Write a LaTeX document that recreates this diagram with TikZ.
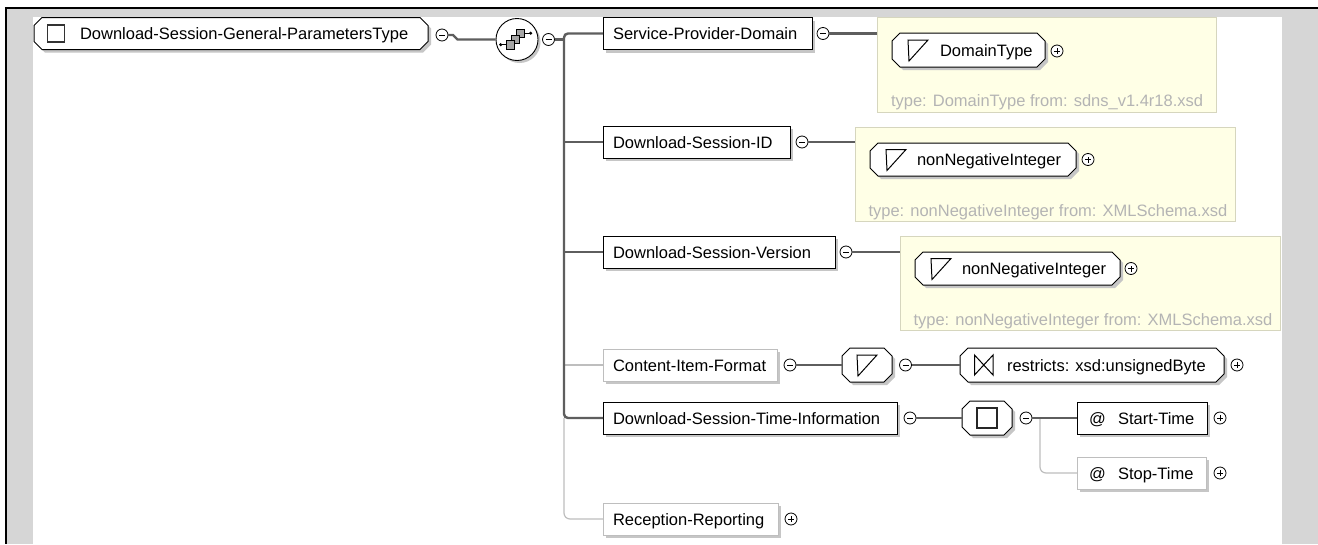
\documentclass[tikz,border=0pt]{standalone}
\usepackage{fontspec}
\setmainfont{Liberation Sans}
\usetikzlibrary{shadows}
\definecolor{bandgray}{HTML}{D6D6D6}
\definecolor{annfill}{HTML}{FFFFE6}
\definecolor{anndraw}{HTML}{D6D6BE}
\definecolor{typegray}{HTML}{B4B4B4}
\definecolor{optgray}{HTML}{BEBEBE}
\definecolor{shadowc}{HTML}{C6C6C6}
\definecolor{linedark}{HTML}{5E5E5E}
\newcommand\hexpath[2]{([xshift=8pt+#1,yshift=-#1]#2.north west) -- ([xshift=-8pt+#1,yshift=-#1]#2.north east) -- ([xshift=#1,yshift=-8pt-#1]#2.north east) -- ([xshift=#1,yshift=8pt-#1]#2.south east) -- ([xshift=-8pt+#1,yshift=-#1]#2.south east) -- ([xshift=8pt+#1,yshift=-#1]#2.south west) -- ([xshift=#1,yshift=8pt-#1]#2.south west) -- ([xshift=#1,yshift=-8pt-#1]#2.north west) -- cycle}
\newcommand\hexdraw[1]{\fill[shadowc] \hexpath{3pt}{#1}; \filldraw[fill=white, draw=black, line width=1pt] \hexpath{0pt}{#1};}
\newcommand\triicon[2]{\draw[black, line width=1pt, line join=miter] (#1,#2-10) -- (#1+20,#2-10) -- (#1+1,#2+11) -- cycle;}
\begin{document}
\begin{tikzpicture}[x=1pt,y=-1pt,
  elbox/.style={rectangle, draw=black, line width=1pt, fill=white, inner sep=0pt, outer sep=0pt, anchor=north west,
    drop shadow={shadow xshift=3pt, shadow yshift=-3pt, fill=shadowc, opacity=1}},
  optbox/.style={elbox, draw=optgray},
  hexbase/.style={rectangle, inner sep=0pt, outer sep=0pt, anchor=north west},
  ann/.style={rectangle, draw=anndraw, fill=annfill, line width=1pt, inner sep=0pt, outer sep=0pt, anchor=north west},
  lbl/.style={anchor=base west, inner sep=0pt, outer sep=0pt, font=\fontsize{16.5}{19}\selectfont},
  typetxt/.style={lbl, text=typegray},
  pmminus/.style={circle, draw=black, line width=0.8pt, fill=white, minimum size=12pt, inner sep=0pt, outer sep=0pt,
    path picture={\draw[line width=0.9pt] ([xshift=-3pt]path picture bounding box.center) -- ([xshift=3pt]path picture bounding box.center);}},
  pmplus/.style={circle, draw=black, line width=0.8pt, fill=white, minimum size=12pt, inner sep=0pt, outer sep=0pt,
    path picture={\draw[line width=0.9pt] ([xshift=-3pt]path picture bounding box.center) -- ([xshift=3pt]path picture bounding box.center);
      \draw[line width=0.9pt] ([yshift=-3pt]path picture bounding box.center) -- ([yshift=3pt]path picture bounding box.center);}},
  darkline/.style={draw=linedark, line width=2.4pt},
  optline/.style={draw=optgray, line width=1.2pt},
]
\useasboundingbox (0,0) rectangle (1318,544);
% frame
\fill[bandgray] (6,8) rectangle (1318,544);
\fill[white] (33,17) rectangle (1282,544);
\draw[black, line width=2.2pt] (4.9,8) -- (1318,8);
\draw[black, line width=2.2pt] (6,8) -- (6,544);

% root
\node[hexbase, minimum width=394pt, minimum height=32pt] (root) at (34,17.5) {};
\hexdraw{root}
\draw[black!80, line width=1.3pt] (47.5,25) rectangle (64.5,42);
\node[lbl] (rootlbl) at (80,39.5) {Download-Session-General-ParametersType};
\node[pmminus] (m0) at (442,35) {};

% sequence compositor
\node[circle, draw=black, line width=0.9pt, fill=white, minimum size=42pt, inner sep=0pt,
  drop shadow={shadow xshift=2.5pt, shadow yshift=-2.5pt, fill=shadowc, opacity=1}] (seq) at (517,39.5) {};
\draw[black, line width=0.8pt] (500.7,44.7) -- (506.3,44.7);
\fill[black] (500.7,44.7) circle (1.7);
\draw[black, line width=0.8pt] (524.7,33.2) -- (530.7,33.2);
\fill[black] (530.7,33.2) circle (1.7);
\filldraw[fill=black!35, draw=black, line width=0.7pt] (516.3,29) rectangle +(8.4,8.4);
\filldraw[fill=black!35, draw=black, line width=0.7pt] (511.3,35) rectangle +(8.4,8.4);
\filldraw[fill=black!35, draw=black, line width=0.7pt] (506.3,40.7) rectangle +(8.4,8.4);
\node[pmminus] (m1) at (548.5,39.5) {};
\draw[darkline] (m0.east) -- ++(5,0) -- ++(4.5,4.5) -- (seq.west);

% children boxes
\node[elbox, minimum width=209pt, minimum height=32pt] (spd) at (603,17.5) {};
\node[lbl] at (613,39.5) {Service-Provider-Domain};
\node[pmminus] (m2) at (823,33.5) {};

\node[elbox, minimum width=187pt, minimum height=32pt] (dsid) at (603,126) {};
\node[lbl] at (613,148) {Download-Session-ID};
\node[pmminus] (m3) at (802,142) {};

\node[elbox, minimum width=232pt, minimum height=32pt] (dsv) at (603,236) {};
\node[lbl] at (613,258) {Download-Session-Version};
\node[pmminus] (m4) at (846,252) {};

\node[optbox, minimum width=174pt, minimum height=32pt] (cif) at (603,349) {};
\node[lbl] at (613,371) {Content-Item-Format};
\node[pmminus] (m5) at (790,365) {};

\node[elbox, minimum width=294pt, minimum height=32pt] (dsti) at (603,402) {};
\node[lbl] at (613,424) {Download-Session-Time-Information};
\node[pmminus] (m7) at (910,418) {};

\node[optbox, minimum width=175pt, minimum height=32pt] (rr) at (603,503) {};
\node[lbl] at (613,525) {Reception-Reporting};
\node[pmplus] (p7) at (791,519) {};

% main trunk
\coordinate (tj) at (564,418);
\draw[optline, rounded corners=6pt] (tj) |- (rr.west);
\draw[optline] (cif.west) -- (cif.west -| tj);
\draw[darkline, rounded corners=4pt] (spd.west) -| (tj) -- (dsti.west);
\draw[darkline] (dsid.west) -- (dsid.west -| tj);
\draw[darkline] (dsv.west) -- (dsv.west -| tj);
\draw[darkline] (m1.east) -- (m1.east -| tj);

% annotation 1
\node[ann, minimum width=339pt, minimum height=95pt] (ann1) at (877,17) {};
\draw[darkline] (m2.east) -- (m2.east -| ann1.west);
\node[hexbase, minimum width=153pt, minimum height=34pt] (dt) at (892,33) {};
\hexdraw{dt}
\triicon{908}{50}
\node[lbl] at (940,56) {DomainType};
\node[pmplus] (p1) at (1057,51) {};
\node[typetxt] at (891,106) {type: DomainType from: sdns\_v1.4r18.xsd};

% annotation 2
\node[ann, minimum width=380pt, minimum height=94pt] (ann2) at (855,127) {};
\draw[darkline] (m3.east) -- (m3.east -| ann2.west);
\node[hexbase, minimum width=206pt, minimum height=33pt] (nni1) at (870,143) {};
\hexdraw{nni1}
\triicon{886}{159.5}
\node[lbl] at (917,165.5) {nonNegativeInteger};
\node[pmplus] (p2) at (1088,159.5) {};
\node[typetxt] at (868.5,216) {type: nonNegativeInteger from: XMLSchema.xsd};

% annotation 3
\node[ann, minimum width=380pt, minimum height=94pt] (ann3) at (900,236) {};
\draw[darkline] (m4.east) -- (m4.east -| ann3.west);
\node[hexbase, minimum width=205pt, minimum height=33pt] (nni2) at (915,252) {};
\hexdraw{nni2}
\triicon{931}{268.5}
\node[lbl] at (962,274.5) {nonNegativeInteger};
\node[pmplus] (p3) at (1131,268.5) {};
\node[typetxt] at (913.5,325) {type: nonNegativeInteger from: XMLSchema.xsd};

% Content-Item-Format chain
\node[hexbase, minimum width=50pt, minimum height=34pt] (thex) at (842,348) {};
\hexdraw{thex}
\triicon{857}{365}
\node[pmminus] (m6) at (905.5,365) {};
\node[hexbase, minimum width=264pt, minimum height=34pt] (rhex) at (960,348) {};
\hexdraw{rhex}
\draw[black, line width=1pt] (974.5,355) -- (974.5,375) -- (993,355) -- (993,375) -- cycle;
\node[lbl] at (1007,371) {restricts: xsd:unsignedByte};
\node[pmplus] (p4) at (1237,365) {};
\draw[darkline] (m5.east) -- (thex.west);
\draw[darkline] (m6.east) -- (rhex.west);

% Download-Session-Time-Information chain
\node[hexbase, minimum width=50pt, minimum height=34pt] (shex) at (962,401) {};
\hexdraw{shex}
\draw[black!85, line width=1.5pt] (977,408) rectangle (997,428);
\node[pmminus] (m8) at (1026,418) {};
\draw[darkline] (m7.east) -- (shex.west);

\node[elbox, minimum width=130pt, minimum height=32pt] (st) at (1077,402) {};
\node[lbl] at (1089,424) {@};
\node[lbl] at (1118,424) {Start-Time};
\node[pmplus] (p5) at (1220,418) {};
\node[optbox, minimum width=129pt, minimum height=32pt] (sp) at (1077,457) {};
\node[lbl] at (1089,479) {@};
\node[lbl] at (1118,479) {Stop-Time};
\node[pmplus] (p6) at (1220,473) {};
\coordinate (tj2) at (1040,418);
\draw[optline, rounded corners=6pt] (tj2) |- (sp.west);
\draw[darkline] (m8.east) -- (st.west);
\end{tikzpicture}
\end{document}
